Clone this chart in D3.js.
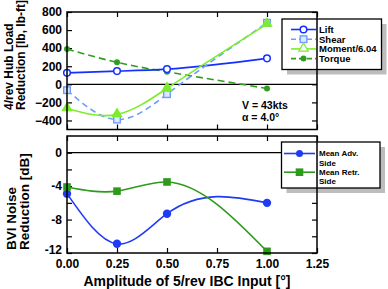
<!DOCTYPE html>
<html>
<head>
<meta charset="utf-8">
<script src="https://cdn.jsdelivr.net/npm/d3@7"></script>
<style>
  body { margin: 0; background: #fff; }
  text { font-family: "Liberation Sans", Arial, sans-serif; font-weight: bold; fill: #000; }
</style>
</head>
<body>
<div id="chart"></div>
<script>
// Data
var amplitude = [0, 0.25, 0.5, 1.0];
var lift = [127, 146, 168, 287];
var shear = [-65, -390, -109, 681];
var moment = [-268, -334, -45, 667];
var torque = [390, 243, 138, -46];
var advSide = [-4.9, -10.9, -7.3, -6.0];
var retrSide = [-4.1, -4.6, -3.5, -11.8];

var xTicks = [0, 0.25, 0.5, 0.75, 1.0, 1.25];
var loadTicks = [-400, -200, 0, 200, 400, 600, 800];
var noiseTicks = [-12, -10, -8, -6, -4, -2, 0];
var noiseLabels = [-12, -8, -4, 0];

var width = 388, height = 289;
var left = 67, right = 317;
var top1 = 12, bot1 = 129.5;
var top2 = 136, bot2 = 253;

var svg = d3.select("#chart").append("svg")
    .attr("width", width)
    .attr("height", height);

var x = d3.scaleLinear().domain([0, 1.25]).range([left, right]);
var yLoad = d3.scaleLinear().domain([-500, 800]).range([bot1, top1]);
var yNoise = d3.scaleLinear().domain([-12, 2]).range([bot2, top2]);

// Natural cubic spline in x (not by point index), emitted as bezier segments
function curveNaturalX(context) {
    var xs, ys;
    return {
        areaStart: function () {}, areaEnd: function () {},
        lineStart: function () { xs = []; ys = []; },
        point: function (px, py) { xs.push(+px); ys.push(+py); },
        lineEnd: function () {
            var n = xs.length, i;
            if (!n) return;
            context.moveTo(xs[0], ys[0]);
            if (n < 3) { if (n == 2) context.lineTo(xs[1], ys[1]); return; }
            var h = [], M = new Array(n).fill(0);
            for (i = 0; i < n - 1; i++) h.push(xs[i + 1] - xs[i]);
            // tridiagonal solve for the inner second derivatives
            var a = [], b = [], c = [], r = [];
            for (i = 1; i < n - 1; i++) {
                a.push(h[i - 1]); b.push(2 * (h[i - 1] + h[i])); c.push(h[i]);
                r.push(6 * ((ys[i + 1] - ys[i]) / h[i] - (ys[i] - ys[i - 1]) / h[i - 1]));
            }
            var m = b.length;
            for (i = 1; i < m; i++) {
                var w = a[i] / b[i - 1];
                b[i] -= w * c[i - 1];
                r[i] -= w * r[i - 1];
            }
            var sol = new Array(m);
            sol[m - 1] = r[m - 1] / b[m - 1];
            for (i = m - 2; i >= 0; i--) sol[i] = (r[i] - c[i] * sol[i + 1]) / b[i];
            for (i = 0; i < m; i++) M[i + 1] = sol[i];
            for (i = 0; i < n - 1; i++) {
                var s = (ys[i + 1] - ys[i]) / h[i];
                var d0 = s - h[i] * (2 * M[i] + M[i + 1]) / 6;
                var d1 = s + h[i] * (M[i] + 2 * M[i + 1]) / 6;
                context.bezierCurveTo(
                    xs[i] + h[i] / 3, ys[i] + d0 * h[i] / 3,
                    xs[i + 1] - h[i] / 3, ys[i + 1] - d1 * h[i] / 3,
                    xs[i + 1], ys[i + 1]);
            }
        }
    };
}

// Axes with inward ticks on all four sides
function frame(y, ticks, fmt, top, bot) {
    var g = svg.append("g")
        .attr("transform", "translate(" + left + ",0)")
        .call(d3.axisLeft(y).tickValues(ticks).tickSize(-5).tickPadding(5).tickFormat(fmt))
        .call(function (g) { g.select(".domain").remove(); });
    g.selectAll("text").style("font-size", "12px").style("font-family", "Liberation Sans").style("font-weight", "bold");
    svg.append("g")
        .attr("transform", "translate(" + right + ",0)")
        .call(d3.axisRight(y).tickValues(ticks).tickSize(-5).tickFormat(""))
        .call(function (g) { g.select(".domain").remove(); });
    svg.append("g")
        .attr("transform", "translate(0," + top + ")")
        .call(d3.axisTop(x).tickValues(xTicks).tickSize(-5).tickFormat(""))
        .call(function (g) { g.select(".domain").remove(); });
    // zero line
    svg.append("line")
        .attr("x1", left).attr("x2", right)
        .attr("y1", y(0)).attr("y2", y(0))
        .style("stroke", "#000").style("stroke-width", 1.3);
    return g;
}

frame(yLoad, loadTicks, d3.format("d"), top1, bot1);
var noiseAxis = frame(yNoise, noiseTicks, function (d) { return noiseLabels.indexOf(d) >= 0 ? d : ""; }, top2, bot2);
// lift the bottom-most label a little so it clears the x labels
noiseAxis.selectAll(".tick text").filter(function (d) { return d == -12; }).attr("y", -3);

svg.append("g")
    .attr("transform", "translate(0," + bot1 + ")")
    .call(d3.axisBottom(x).tickValues(xTicks).tickSize(-5).tickFormat(""))
    .call(function (g) { g.select(".domain").remove(); });
svg.append("g")
    .attr("transform", "translate(0," + bot2 + ")")
    .call(d3.axisBottom(x).tickValues(xTicks).tickSize(-5).tickPadding(6).tickFormat(d3.format(".2f")))
    .call(function (g) { g.select(".domain").remove(); })
    .selectAll("text").style("font-size", "12px").style("font-family", "Liberation Sans").style("font-weight", "bold");

svg.selectAll(".tick line").style("stroke", "#000").style("stroke-width", 1.2);

function drawSeries(y, values, color, dash, marker) {
    var line = d3.line()
        .x(function (d, i) { return x(amplitude[i]); })
        .y(function (d) { return y(d); })
        .curve(curveNaturalX);
    svg.append("path")
        .datum(values)
        .attr("d", line)
        .style("fill", "none")
        .style("stroke", color)
        .style("stroke-width", 1.6)
        .style("stroke-dasharray", dash);
    values.forEach(function (v, i) {
        marker(x(amplitude[i]), y(v), color);
    });
}

function openCircle(cx, cy, color) {
    svg.append("circle").attr("cx", cx).attr("cy", cy).attr("r", 3.3)
        .style("fill", "#fff").style("stroke", color).style("stroke-width", 1.5);
}
function openSquare(cx, cy, color) {
    svg.append("rect").attr("x", cx - 3.3).attr("y", cy - 3.3).attr("width", 6.6).attr("height", 6.6)
        .style("fill", "#dde8ff").style("stroke", color).style("stroke-width", 1.4);
}
function triangle(cx, cy, color, fill) {
    svg.append("path")
        .attr("d", d3.symbol().type(d3.symbolTriangle).size(38))
        .attr("transform", "translate(" + cx + "," + (cy - 0.5) + ")")
        .style("fill", fill || color).style("stroke", color).style("stroke-width", 1.2);
}
function dot(r) {
    return function (cx, cy, color) {
        svg.append("circle").attr("cx", cx).attr("cy", cy).attr("r", r).style("fill", color);
    };
}
function filledSquare(cx, cy, color) {
    svg.append("rect").attr("x", cx - 3.8).attr("y", cy - 3.8).attr("width", 7.6).attr("height", 7.6)
        .style("fill", color);
}

var cLift = "#1430ff", cShear = "#6f9cff", cMoment = "#7ced2c", cTorque = "#2f9e1e";
var cAdv = "#1f3cf4", cRetr = "#2e9a1c";

drawSeries(yLoad, torque, cTorque, "7,4", dot(3));
drawSeries(yLoad, lift, cLift, null, openCircle);
drawSeries(yLoad, shear, cShear, "6,4", openSquare);
drawSeries(yLoad, moment, cMoment, null, function (cx, cy, c) { triangle(cx, cy, c); });

drawSeries(yNoise, advSide, cAdv, null, dot(4.2));
drawSeries(yNoise, retrSide, cRetr, null, filledSquare);

// Legends with drop shadow
function legendBox(x0, y0, w, h) {
    svg.append("rect").attr("x", x0 + 5).attr("y", y0 + 5).attr("width", w).attr("height", h)
        .style("fill", "#bdbdbd");
    svg.append("rect").attr("x", x0).attr("y", y0).attr("width", w).attr("height", h)
        .style("fill", "#fff").style("stroke", "#000").style("stroke-width", 1.3);
}

legendBox(282, 19, 99.5, 50.5);
var loadLegend = [
    { name: "Lift", color: cLift, dash: null, marker: openCircle },
    { name: "Shear", color: cShear, dash: "5,3", marker: openSquare },
    { name: "Moment/6.04", color: cMoment, dash: null, marker: function (cx, cy, c) { triangle(cx, cy, c, "#fff"); } },
    { name: "Torque", color: cTorque, dash: "5,3", marker: dot(3) }
];
loadLegend.forEach(function (d, i) {
    var yy = 29.5 + i * 9.7;
    svg.append("line").attr("x1", 291).attr("x2", 316).attr("y1", yy).attr("y2", yy)
        .style("stroke", d.color).style("stroke-width", 1.6).style("stroke-dasharray", d.dash);
    d.marker(303.5, yy, d.color);
    svg.append("text").attr("x", 319).attr("y", yy + 3.5).style("font-size", "9.5px").text(d.name);
});

legendBox(281.5, 142, 98.5, 46);
var noiseLegend = [
    { lines: ["Mean Adv.", "Side"], color: cAdv, marker: dot(3.5) },
    { lines: ["Mean Retr.", "Side"], color: cRetr, marker: filledSquare }
];
noiseLegend.forEach(function (d, i) {
    var yy = 153.5 + i * 18.7;
    svg.append("line").attr("x1", 284).attr("x2", 315).attr("y1", yy).attr("y2", yy)
        .style("stroke", d.color).style("stroke-width", 1.6);
    d.marker(299.5, yy, d.color);
    d.lines.forEach(function (t, k) {
        svg.append("text").attr("x", 319).attr("y", yy + 2.8 + k * 9.4)
            .style("font-size", "8px").text(t);
    });
});

// Annotation
svg.append("text").attr("x", 242).attr("y", 108.5).style("font-size", "10.5px").text("V = 43kts");
svg.append("text").attr("x", 242).attr("y", 121).style("font-size", "10.5px").text("\u03b1 = 4.0\u00b0");

// Axis titles
function yTitle(lines, x0s, yStart, size) {
    lines.forEach(function (t, i) {
        svg.append("text")
            .attr("transform", "translate(" + x0s[i] + "," + yStart + ") rotate(-90)")
            .style("font-size", size + "px")
            .text(t);
    });
}
yTitle(["4/rev Hub Load", "Reduction [lb, lb-ft]"], [13, 25], 110, 12);
yTitle(["BVI Noise", "Reduction [dB]"], [15.5, 28.5], 250, 13.5);

svg.append("text")
    .attr("x", 187).attr("y", 286)
    .attr("text-anchor", "middle")
    .style("font-size", "14px")
    .text("Amplitude of 5/rev IBC Input [\u00b0]");

// Frames on top
[[top1, bot1], [top2, bot2]].forEach(function (p) {
    svg.append("rect").attr("x", left).attr("y", p[0]).attr("width", right - left).attr("height", p[1] - p[0])
        .style("fill", "none").style("stroke", "#000").style("stroke-width", 1.5);
});
</script>
</body>
</html>
